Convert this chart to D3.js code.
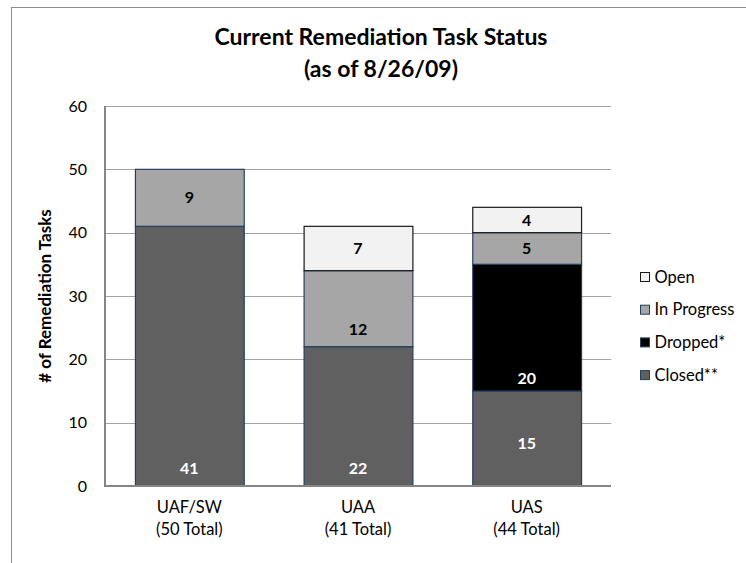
<!DOCTYPE html>
<html lang="en">
<head>
<meta charset="utf-8">
<title>Current Remediation Task Status</title>
<script src="https://cdn.jsdelivr.net/npm/d3@7"></script>
<style>
  body { margin: 0; padding: 0; background: #fff; }
  svg { display: block; font-family: Lato, "Open Sans", sans-serif; }
</style>
</head>
<body>
<svg id="chart" width="746" height="563"></svg>
<script>
// data
const campuses = ['UAF/SW', 'UAA', 'UAS'];
const totals = [50, 41, 44];
const closed = [41, 22, 15];
const dropped = [0, 0, 20];
const inProgress = [9, 12, 5];
const open = [0, 7, 4];
const yTicks = [0, 10, 20, 30, 40, 50, 60];

const seriesNames = ['Closed**', 'Dropped*', 'In Progress', 'Open'];
const seriesValues = [closed, dropped, inProgress, open];
const legendOrder = ['Open', 'In Progress', 'Dropped*', 'Closed**'];

const fills = { 'Closed**': '#606060', 'Dropped*': '#000000', 'In Progress': '#a6a6a6', 'Open': '#f2f2f2' };
const edges = { 'Closed**': '#243f60', 'Dropped*': '#243f60', 'In Progress': '#243f60', 'Open': '#1a1a1a' };
const labelInk = { 'Closed**': '#ffffff', 'Dropped*': '#ffffff', 'In Progress': '#000000', 'Open': '#000000' };

// some labels were dragged off-centre in the original: value (in y units) where they sit
const labelNudge = { 'Closed**|UAF/SW': 2.8, 'Closed**|UAA': 2.8, 'Closed**|UAS': 6.8,
                     'Dropped*|UAS': 17, 'In Progress|UAA': 24.8 };

const svg = d3.select('#chart');
const plot = { left: 105, right: 611, top: 106, bottom: 486 };

// outer chart frame (runs off the right/bottom edge)
svg.append('rect')
  .attr('x', 11.5).attr('y', 7.5)
  .attr('width', 760).attr('height', 600)
  .attr('fill', 'none').attr('stroke', '#8c8c8c');

const x = d3.scaleBand()
  .domain(campuses)
  .range([plot.left, plot.right])
  .paddingInner(0.355)
  .paddingOuter(0.1775);

const y = d3.scaleLinear().domain([0, 60]).range([plot.bottom, plot.top]);

// gridlines
svg.append('g')
  .selectAll('line')
  .data(yTicks.filter(d => d > 0))
  .join('line')
  .attr('x1', plot.left).attr('x2', plot.right)
  .attr('y1', d => Math.round(y(d)) + 0.5).attr('y2', d => Math.round(y(d)) + 0.5)
  .attr('stroke', '#a3a3a3');

// y axis labels
const yAxis = svg.append('g')
  .attr('transform', `translate(${plot.left},0)`)
  .call(d3.axisLeft(y).tickValues(yTicks).tickSize(0).tickPadding(18));
yAxis.select('.domain').remove();
yAxis.selectAll('text').attr('font-size', 16).attr('fill', '#000').attr('font-family', 'Lato, sans-serif');

// stacked bars
const rows = campuses.map((c, i) => {
  const r = { campus: c };
  seriesNames.forEach((s, k) => { r[s] = seriesValues[k][i]; });
  return r;
});
const stacked = d3.stack().keys(seriesNames)(rows);

const layers = svg.append('g')
  .selectAll('g')
  .data(stacked)
  .join('g');

layers.selectAll('rect')
  .data(d => d.filter(p => p[1] > p[0]).map(p => ({ key: d.key, p })))
  .join('rect')
  .attr('x', d => x(d.p.data.campus) + 0.5)
  .attr('width', x.bandwidth())
  .attr('y', d => y(d.p[1]))
  .attr('height', d => y(d.p[0]) - y(d.p[1]))
  .attr('fill', d => fills[d.key])
  .attr('stroke', d => edges[d.key])
  .attr('stroke-width', 1.2);

// value labels
layers.selectAll('text')
  .data(d => d.filter(p => p[1] > p[0]).map(p => ({ key: d.key, p })))
  .join('text')
  .attr('x', d => x(d.p.data.campus) + x.bandwidth() / 2)
  .attr('y', d => {
    const nudge = labelNudge[d.key + '|' + d.p.data.campus];
    return nudge !== undefined ? y(nudge) : y((d.p[0] + d.p[1]) / 2);
  })
  .attr('dy', '0.35em')
  .attr('text-anchor', 'middle')
  .attr('font-size', 16)
  .attr('font-weight', 'bold')
  .attr('fill', d => labelInk[d.key])
  .text(d => d.p[1] - d.p[0]);

// axis lines
svg.append('line')
  .attr('x1', plot.left).attr('x2', plot.left)
  .attr('y1', plot.top).attr('y2', plot.bottom)
  .attr('stroke', '#868686').attr('stroke-width', 2);
svg.append('line')
  .attr('x1', plot.left - 1).attr('x2', plot.right)
  .attr('y1', plot.bottom).attr('y2', plot.bottom)
  .attr('stroke', '#868686').attr('stroke-width', 2);

// category labels
const xl = svg.append('g')
  .selectAll('text')
  .data(campuses)
  .join('text')
  .attr('text-anchor', 'middle')
  .attr('font-size', 16.5);
xl.append('tspan').attr('x', d => x(d) + x.bandwidth() / 2).attr('y', 513).text(d => d);
xl.append('tspan').attr('x', d => x(d) + x.bandwidth() / 2).attr('y', 535)
  .text((d, i) => `(${totals[i]} Total)`);

// title
const title = svg.append('text')
  .attr('text-anchor', 'middle')
  .attr('font-size', 23)
  .attr('font-weight', 'bold');
title.append('tspan').attr('x', 381).attr('y', 45).text('Current Remediation Task Status');
title.append('tspan').attr('x', 381).attr('y', 77).text('(as of 8/26/09)');

// y axis title
svg.append('text')
  .attr('transform', `translate(51,${(plot.top + plot.bottom) / 2}) rotate(-90)`)
  .attr('text-anchor', 'middle')
  .attr('font-size', 17)
  .attr('font-weight', 'bold')
  .text('# of Remediation Tasks');

// legend
const legend = svg.append('g')
  .selectAll('g')
  .data(legendOrder)
  .join('g')
  .attr('transform', (d, i) => `translate(640,${277 + i * 32.7})`);
legend.append('rect')
  .attr('x', 0.5).attr('y', -4.5)
  .attr('width', 9).attr('height', 9)
  .attr('fill', d => fills[d])
  .attr('stroke', d => edges[d]);
legend.append('text')
  .attr('x', 14.5)
  .attr('dy', '0.35em')
  .attr('font-size', 16.5)
  .text(d => d);
</script>
</body>
</html>
